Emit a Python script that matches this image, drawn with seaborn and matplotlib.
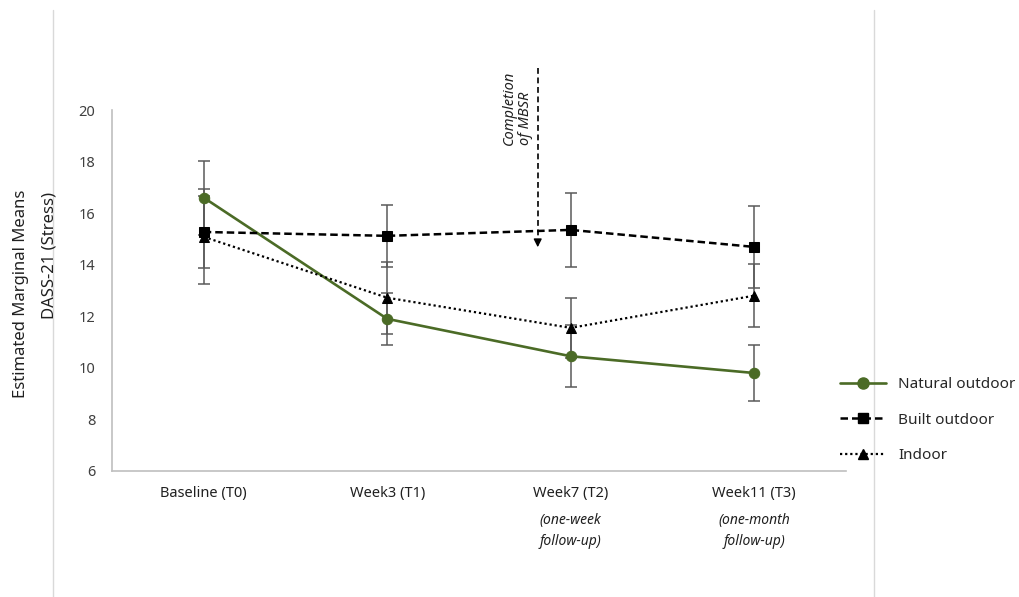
import matplotlib
matplotlib.use("Agg")
import matplotlib.pyplot as plt
from matplotlib.lines import Line2D
from matplotlib.transforms import blended_transform_factory
import seaborn as sns
import pandas as pd
import numpy as np

categories = ["Baseline (T0)", "Week3 (T1)", "Week7 (T2)", "Week11 (T3)"]
sub_labels = ["", "", "(one-week\nfollow-up)", "(one-month\nfollow-up)"]
groups = ["Natural outdoor", "Built outdoor", "Indoor"]
natural = [16.6, 11.9, 10.45, 9.8]
natural_err = [1.43, 1.0, 1.2, 1.1]
built = [15.27, 15.12, 15.35, 14.69]
built_err = [1.4, 1.2, 1.45, 1.6]
indoor = [15.08, 12.72, 11.55, 12.8]
indoor_err = [1.84, 1.4, 1.16, 1.22]
yticks = [6, 8, 10, 12, 14, 16, 18, 20]
arrow_x = 2.32 - 0.5
arrow_top = 21.63
arrow_head = 14.57

sns.set_theme(style="white")
plt.rcParams["font.family"] = ["Noto Sans", "DejaVu Sans"]

means = {"Natural outdoor": natural, "Built outdoor": built, "Indoor": indoor}
errs = {"Natural outdoor": natural_err, "Built outdoor": built_err, "Indoor": indoor_err}
rows = []
for g in groups:
    for i, c in enumerate(categories):
        rows.append({"pos": i, "time": c, "group": g, "mean": means[g][i], "err": errs[g][i]})
df = pd.DataFrame(rows)

green = "#4B6B26"
colors = {"Natural outdoor": green, "Built outdoor": "black", "Indoor": "black"}
dashes = {"Natural outdoor": "", "Built outdoor": (3, 1.6), "Indoor": (1, 1.3)}
markers = {"Natural outdoor": "o", "Built outdoor": "s", "Indoor": "^"}
lws = {"Natural outdoor": 1.9, "Built outdoor": 1.8, "Indoor": 1.6}
msz = {"Natural outdoor": 7.5, "Built outdoor": 7, "Indoor": 6.5}

fig = plt.figure(figsize=(10.2, 5.97), dpi=100)
ax = fig.add_axes([112 / 1020, 1 - 471 / 597, (846 - 112) / 1020, (471 - 110) / 597])

# error bars
for g in groups:
    sub = df[df.group == g]
    ax.errorbar(sub["pos"], sub["mean"], yerr=sub["err"], fmt="none",
                ecolor="#5A5A5A", elinewidth=1.1, capsize=4.5, capthick=1.1, zorder=2)

for g in groups:
    sub = df[df.group == g]
    sns.lineplot(data=sub, x="pos", y="mean", ax=ax, color=colors[g],
                 marker=markers[g], markersize=msz[g], markeredgecolor=colors[g],
                 linewidth=lws[g], dashes=False, legend=False, zorder=3, sort=False)
    ln = ax.lines[-1]
    if dashes[g]:
        ln.set_dashes(dashes[g])

ax.set_xlim(-0.5, 3.5)
ax.set_ylim(6, 20)
ax.set_yticks(yticks)
ax.set_xticks(range(len(categories)))
ax.set_xticklabels(categories, fontsize=10.5)
ax.tick_params(axis="y", labelsize=10.5, pad=12, length=0, colors="#404040")
ax.tick_params(axis="x", pad=11, length=0, colors="#202020")
ax.set_xlabel("")
ax.set_ylabel("")
for s in ["top", "right"]:
    ax.spines[s].set_visible(False)
for s in ["left", "bottom"]:
    ax.spines[s].set_color("#BFBFBF")
    ax.spines[s].set_linewidth(1.2)

# sub labels
tr = blended_transform_factory(ax.transData, fig.transFigure)
for i, s in enumerate(sub_labels):
    if s:
        ax.text(i, 1 - 531 / 597, s, transform=tr, ha="center", va="center",
                fontsize=10, style="italic", color="#202020", linespacing=1.5)

# arrow for completion of MBSR
ax.plot([arrow_x, arrow_x], [arrow_top, arrow_head + 0.45], color="black",
        linestyle=(0, (3.5, 2.2)), linewidth=1.2, clip_on=False, zorder=4)
ax.annotate("", xy=(arrow_x, arrow_head), xytext=(arrow_x, arrow_head + 0.5),
            arrowprops=dict(arrowstyle="-|>", color="black", lw=1.0,
                            mutation_scale=12), annotation_clip=False)
ax.text(arrow_x - 0.11, 18.64, "Completion\nof MBSR", rotation=90, ha="center",
        va="bottom", multialignment="left", fontsize=10.5, style="italic",
        color="#202020", clip_on=False, linespacing=1.1)

# y label (two lines)
fig.text(21 / 1020, 1 - 190 / 597, "Estimated Marginal Means", rotation=90,
         ha="center", va="top", fontsize=12, color="#202020")
fig.text(49 / 1020, 1 - 192 / 597, "DASS-21 (Stress)", rotation=90,
         ha="center", va="top", fontsize=12, color="#202020")

# frame lines
for xp in [53, 874]:
    fig.add_artist(Line2D([xp / 1020, xp / 1020], [0, 1 - 10 / 597],
                          color="#D9D9D9", linewidth=1.0, transform=fig.transFigure))

# legend
handles = []
for g in groups:
    h = Line2D([], [], color=colors[g], marker=markers[g], markersize=msz[g] + 0.5,
               linewidth=lws[g], markeredgecolor=colors[g])
    if dashes[g]:
        h.set_dashes(dashes[g])
    handles.append(h)
fig.legend(handles, groups, loc="center left", bbox_to_anchor=(840 / 1020, 1 - 420 / 597),
           frameon=False, fontsize=11, handlelength=3.0, handletextpad=0.8,
           labelspacing=1.35, borderpad=0, borderaxespad=0)

fig.savefig("out.png", dpi=100)
